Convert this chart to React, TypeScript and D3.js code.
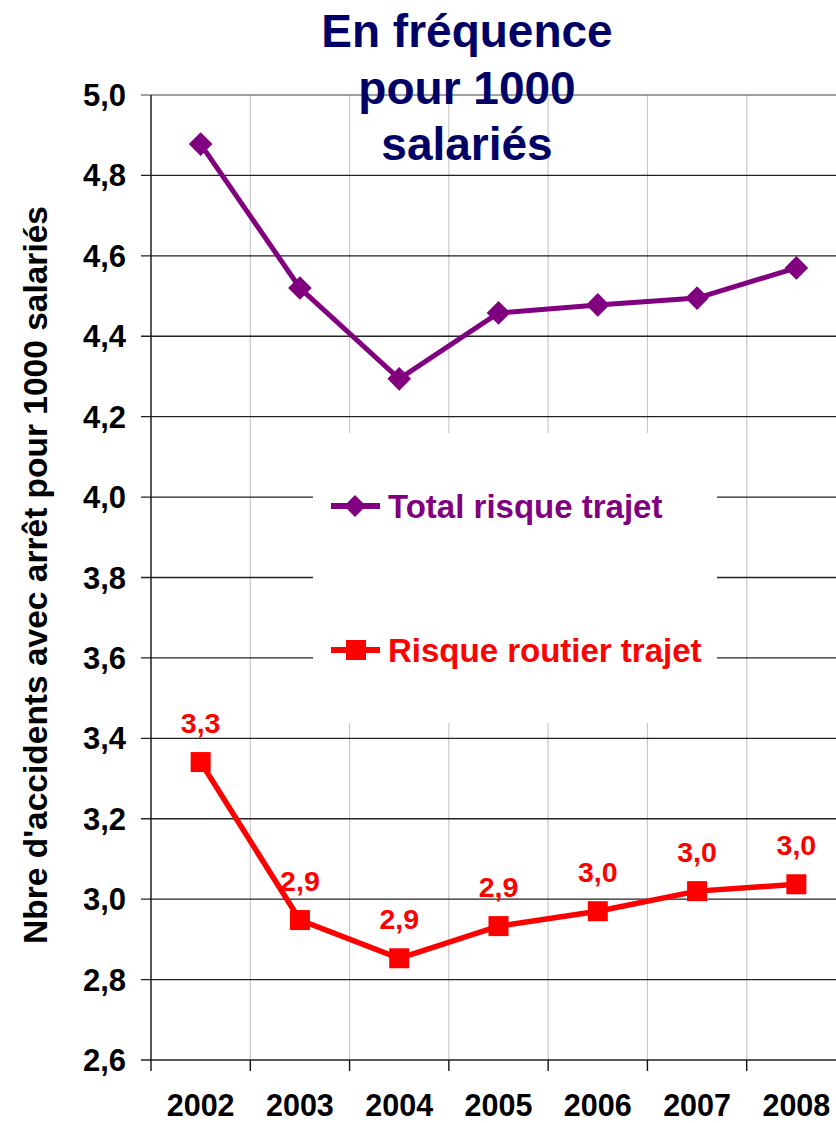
import React, { useEffect, useRef } from 'react';
import * as d3 from 'd3';

// values
const years = ['2002', '2003', '2004', '2005', '2006', '2007', '2008'];
const totalRisque = [4.878, 4.52, 4.294, 4.458, 4.478, 4.495, 4.57];
const risqueRoutier = [3.341, 2.948, 2.853, 2.933, 2.97, 3.02, 3.037];
const routierLabels = ['3,3', '2,9', '2,9', '2,9', '3,0', '3,0', '3,0'];
const titleLines = ['En fréquence', 'pour 1000', 'salariés'];
const yTitle = "Nbre d'accidents avec arrêt pour 1000 salariés";

const PURPLE = '#800080';
const RED = '#ff0000';
const NAVY = '#000066';
const FONT = 'Liberation Sans, Arial, sans-serif';

const App = () => {
    const svgRef = useRef<SVGSVGElement>(null);

    useEffect(() => {
        const W = 836;
        const H = 1123;
        const left = 151;
        const top = 95;
        const bottom = 1060;
        const right = 846;

        const x = d3.scaleBand().domain(years).range([left, right]).padding(0);
        const y = d3.scaleLinear().domain([2.6, 5.0]).range([bottom, top]);
        const cx = (d: string) => (x(d) as number) + x.bandwidth() / 2;
        const fmt = (v: number) => d3.format('.1f')(v).replace('.', ',');

        const svg = d3.select(svgRef.current);
        svg.selectAll('*').remove();
        svg.attr('width', W).attr('height', H).style('font-family', FONT);

        svg.append('rect').attr('width', W).attr('height', H).attr('fill', '#fff');

        // vertical grid (category boundaries)
        const bounds = years.slice(1).map((d) => x(d) as number);
        svg.append('g')
            .selectAll('line')
            .data(bounds)
            .join('line')
            .attr('x1', (d) => d).attr('x2', (d) => d)
            .attr('y1', top).attr('y2', bottom)
            .attr('stroke', '#c8c8c8')
            .attr('stroke-width', 1.2);

        // horizontal grid
        const yTicks = y.ticks(12);
        svg.append('g')
            .selectAll('line')
            .data(yTicks)
            .join('line')
            .attr('x1', left - 10).attr('x2', W)
            .attr('y1', (d) => y(d)).attr('y2', (d) => y(d))
            .attr('stroke', (d) => (d === 5 ? '#808080' : '#222'))
            .attr('stroke-width', 1.4);

        // y axis line
        svg.append('line')
            .attr('x1', left).attr('x2', left)
            .attr('y1', top).attr('y2', bottom)
            .attr('stroke', '#111').attr('stroke-width', 1.4);

        // x axis ticks
        svg.append('g')
            .selectAll('line')
            .data([left, ...bounds])
            .join('line')
            .attr('x1', (d) => d).attr('x2', (d) => d)
            .attr('y1', bottom).attr('y2', bottom + 11)
            .attr('stroke', '#111').attr('stroke-width', 1.4);

        // y tick labels
        svg.append('g')
            .selectAll('text')
            .data(yTicks)
            .join('text')
            .attr('x', 126)
            .attr('y', (d) => y(d) + 11)
            .attr('text-anchor', 'end')
            .attr('font-size', 31)
            .attr('font-weight', 'bold')
            .text((d) => fmt(d));

        // x tick labels
        svg.append('g')
            .selectAll('text')
            .data(years)
            .join('text')
            .attr('x', (d) => cx(d))
            .attr('y', 1116)
            .attr('text-anchor', 'middle')
            .attr('font-size', 30.5)
            .attr('font-weight', 'bold')
            .text((d) => d);

        // y axis title
        svg.append('text')
            .attr('transform', 'translate(47, 575) rotate(-90)')
            .attr('text-anchor', 'middle')
            .attr('font-size', 33.5)
            .attr('font-weight', 'bold')
            .text(yTitle);

        // legend background
        svg.append('rect')
            .attr('x', 313).attr('y', 433)
            .attr('width', 404).attr('height', 290)
            .attr('fill', '#fff');

        const line = d3.line<number>()
            .x((_, i) => cx(years[i]))
            .y((d) => y(d));

        // total risque trajet
        svg.append('path')
            .datum(totalRisque)
            .attr('fill', 'none')
            .attr('stroke', PURPLE)
            .attr('stroke-width', 5)
            .attr('d', line);
        svg.append('g')
            .selectAll('path')
            .data(totalRisque)
            .join('path')
            .attr('transform', (d, i) => `translate(${cx(years[i])},${y(d)}) rotate(45)`)
            .attr('d', d3.symbol().type(d3.symbolSquare).size(280)())
            .attr('fill', PURPLE);

        // risque routier trajet
        svg.append('path')
            .datum(risqueRoutier)
            .attr('fill', 'none')
            .attr('stroke', RED)
            .attr('stroke-width', 5.5)
            .attr('d', line);
        svg.append('g')
            .selectAll('rect')
            .data(risqueRoutier)
            .join('rect')
            .attr('x', (d, i) => cx(years[i]) - 10)
            .attr('y', (d) => y(d) - 10)
            .attr('width', 20).attr('height', 20)
            .attr('fill', RED);
        svg.append('g')
            .selectAll('text')
            .data(risqueRoutier)
            .join('text')
            .attr('x', (d, i) => cx(years[i]))
            .attr('y', (d) => y(d) - 29)
            .attr('text-anchor', 'middle')
            .attr('font-size', 28.5)
            .attr('font-weight', 'bold')
            .attr('fill', RED)
            .text((d, i) => routierLabels[i]);

        // legend
        const legend = [
            { name: 'Total risque trajet', color: PURPLE, cy: 506, shape: 'diamond' },
            { name: 'Risque routier trajet', color: RED, cy: 650, shape: 'square' },
        ];
        const lg = svg.append('g')
            .selectAll('g')
            .data(legend)
            .join('g')
            .attr('transform', (d) => `translate(0,${d.cy})`);
        lg.append('line')
            .attr('x1', 331).attr('x2', 380)
            .attr('stroke', (d) => d.color)
            .attr('stroke-width', 6);
        lg.append('path')
            .attr('transform', (d) => (d.shape === 'diamond' ? 'translate(355,0) rotate(45)' : 'translate(356,0)'))
            .attr('d', (d) => d3.symbol().type(d3.symbolSquare).size(d.shape === 'diamond' ? 240 : 400)())
            .attr('fill', (d) => d.color);
        lg.append('text')
            .attr('x', 388)
            .attr('y', 12)
            .attr('font-size', 33)
            .attr('font-weight', 'bold')
            .attr('fill', (d) => d.color)
            .text((d) => d.name);

        // title
        svg.append('g')
            .selectAll('text')
            .data(titleLines)
            .join('text')
            .attr('x', 467)
            .attr('y', (_, i) => 47 + i * 56.5)
            .attr('text-anchor', 'middle')
            .attr('font-size', 46)
            .attr('font-weight', 'bold')
            .attr('fill', NAVY)
            .text((d) => d);
    }, []);

    return (
        <svg ref={svgRef} style={{ position: 'absolute', left: 0, top: 0 }}></svg>
    );
};

export default App;
